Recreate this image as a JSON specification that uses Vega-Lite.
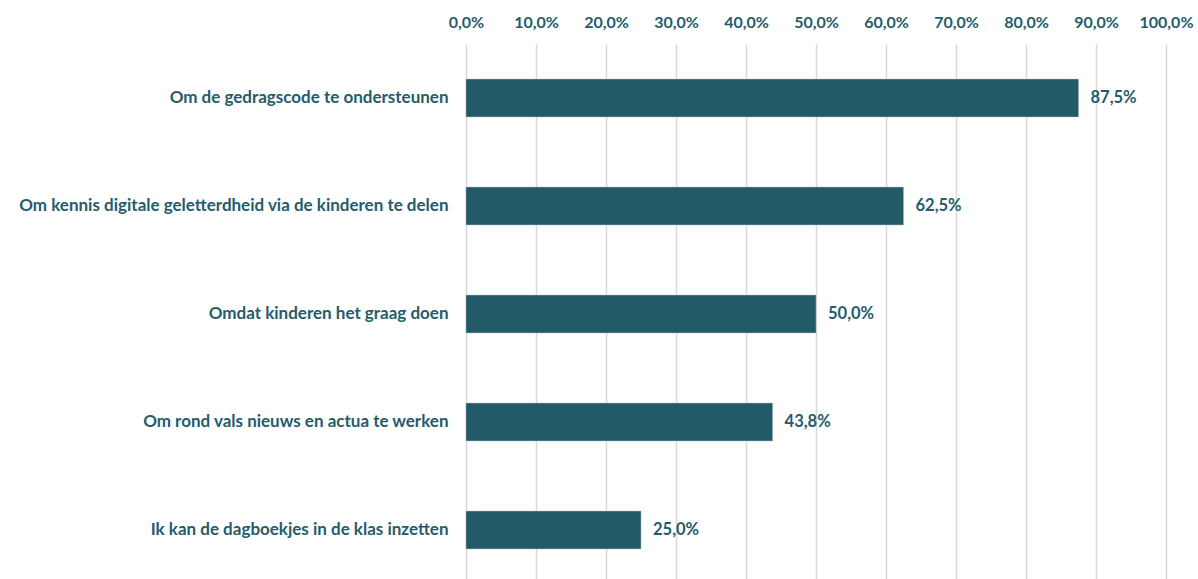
{
  "$schema": "https://vega.github.io/schema/vega-lite/v6.json",
  "width": 700,
  "height": 540,
  "autosize": {"type": "none"},
  "padding": {"left": 466, "top": 44, "right": 32, "bottom": 0},
  "background": "white",
  "config": {
    "locale": {"number": {"decimal": ",", "thousands": ".", "grouping": [3], "currency": ["€", ""]}},
    "view": {"stroke": null},
    "font": "Lato"
  },
  "data": {
    "values": [
      {"reden": "Om de gedragscode te ondersteunen", "pct": 0.875},
      {"reden": "Om kennis digitale geletterdheid via de kinderen te delen", "pct": 0.625},
      {"reden": "Omdat kinderen het graag doen", "pct": 0.5},
      {"reden": "Om rond vals nieuws en actua te werken", "pct": 0.438},
      {"reden": "Ik kan de dagboekjes in de klas inzetten", "pct": 0.25}
    ]
  },
  "encoding": {
    "y": {
      "field": "reden", "type": "nominal", "sort": null, "title": null,
      "scale": {"paddingInner": 0.65, "paddingOuter": 0.325},
      "axis": {"domain": false, "ticks": false, "labelPadding": 18, "labelFont": "Lato", "labelFontSize": 17, "labelFontWeight": "bold", "labelColor": "#245C6B", "labelLimit": 600}
    },
    "x": {
      "field": "pct", "type": "quantitative", "title": null,
      "scale": {"domain": [0, 1], "nice": false},
      "axis": {"orient": "top", "format": ".1%", "values": [0, 0.1, 0.2, 0.3, 0.4, 0.5, 0.6, 0.7, 0.8, 0.9, 1.0], "domain": false, "ticks": false, "labelPadding": 14, "labelFont": "Lato", "labelFontSize": 16, "labelFontWeight": "bold", "labelColor": "#245C6B", "grid": true, "gridColor": "#D9D9D9", "gridWidth": 1.5, "labelFlush": false}
    }
  },
  "layer": [
    {"mark": {"type": "bar", "color": "#235A68", "stroke": "#9FB6BC", "strokeWidth": 0.5}},
    {"mark": {"type": "text", "align": "left", "baseline": "middle", "dx": 12, "font": "Lato", "fontSize": 16.5, "fontWeight": "bold", "color": "#245C6B"},
     "encoding": {"text": {"field": "pct", "type": "quantitative", "format": ".1%"}}}
  ]
}
